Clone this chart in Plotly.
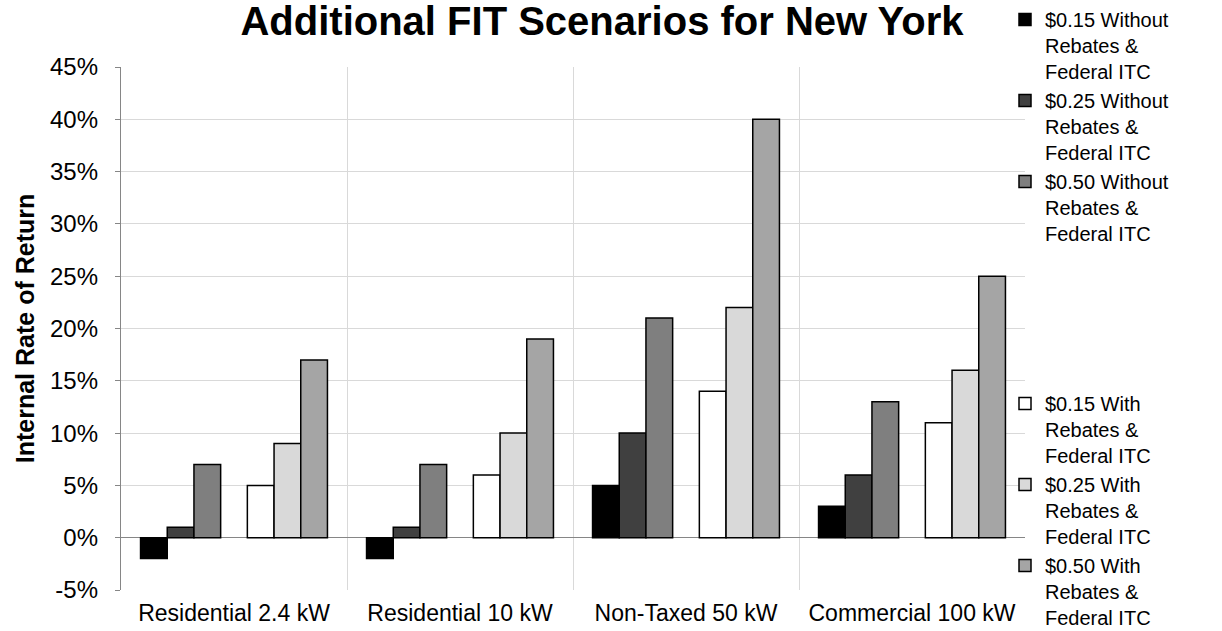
import plotly.graph_objects as go

# Installation types compared
categories = ["Residential 2.4 kW", "Residential 10 kW", "Non-Taxed 50 kW", "Commercial 100 kW"]

# Internal rate of return (%) for each feed-in tariff scenario
fit015_without = [-2, -2, 5, 3]
fit025_without = [1, 1, 10, 6]
fit050_without = [7, 7, 21, 13]
fit015_with = [5, 6, 14, 11]
fit025_with = [9, 10, 22, 16]
fit050_with = [17, 19, 40, 25]

y_ticks = [-5, 0, 5, 10, 15, 20, 25, 30, 35, 40, 45]

FONT = "Liberation Sans, Arial, sans-serif"
W, H = 1222, 631
L, R, T, B = 121, 197, 67, 41

series = [
    ("$0.15 Without<br>Rebates &<br>Federal ITC", fit015_without, "#000000", "legend"),
    ("$0.25 Without<br>Rebates &<br>Federal ITC", fit025_without, "#404040", "legend"),
    ("$0.50 Without<br>Rebates &<br>Federal ITC", fit050_without, "#7f7f7f", "legend"),
    None,  # empty slot separating the two scenario groups
    ("$0.15 With<br>Rebates &<br>Federal ITC", fit015_with, "#ffffff", "legend2"),
    ("$0.25 With<br>Rebates &<br>Federal ITC", fit025_with, "#d9d9d9", "legend2"),
    ("$0.50 With<br>Rebates &<br>Federal ITC", fit050_with, "#a5a5a5", "legend2"),
]

fig = go.Figure()
for s in series:
    if s is None:
        fig.add_trace(go.Bar(x=categories, y=[None] * len(categories),
                             showlegend=False, hoverinfo="skip"))
        continue
    name, vals, color, leg = s
    fig.add_trace(go.Bar(
        x=categories, y=vals, name=name, legend=leg,
        marker=dict(color=color, line=dict(color="#000000", width=1.5)),
    ))

zero_frac = (0 - y_ticks[0]) / (y_ticks[-1] - y_ticks[0])

fig.update_layout(
    width=W, height=H,
    margin=dict(l=L, r=R, t=T, b=B, autoexpand=False),
    paper_bgcolor="white", plot_bgcolor="white",
    barmode="group", bargap=0.173, bargroupgap=0,
    font=dict(family=FONT, color="#000000"),
    title=dict(
        text="<b>Additional FIT Scenarios for New York</b>",
        font=dict(family=FONT, size=40, color="#000000"),
        x=602 / W, xanchor="center", xref="container",
        y=1 - 7 / H, yanchor="top", yref="container",
    ),
    xaxis=dict(
        type="category", tickson="boundaries",
        showgrid=True, gridcolor="#d9d9d9", gridwidth=1.3,
        showline=False, ticks="", zeroline=False,
        tickfont=dict(family=FONT, size=23, color="#000000"),
        ticklabelstandoff=7,
    ),
    xaxis2=dict(
        overlaying="x", anchor="free", position=zero_frac,
        range=[-0.5, len(categories) - 0.5],
        tickvals=[i + 0.5 for i in range(len(categories))],
        showgrid=False, zeroline=False, showticklabels=False,
        showline=True, linecolor="#868686", linewidth=1.3,
        ticks="outside", ticklen=5, tickcolor="#868686", tickwidth=1.3,
    ),
    yaxis=dict(
        range=[y_ticks[0], y_ticks[-1]], tickvals=y_ticks,
        ticktext=[f"{v}%" for v in y_ticks],
        showgrid=True, gridcolor="#d9d9d9", gridwidth=1.3,
        zeroline=True, zerolinecolor="#868686", zerolinewidth=1.3,
        showline=True, linecolor="#868686", linewidth=1.3,
        ticks="outside", ticklen=5, tickcolor="#868686", tickwidth=1.3,
        tickfont=dict(family=FONT, size=24, color="#000000"),
        ticklabelstandoff=12,
        title=dict(text="<b>Internal Rate of Return</b>",
                   font=dict(family=FONT, size=25, color="#000000"),
                   standoff=8),
    ),
    legend=dict(
        xref="container", yref="container",
        x=1005 / W, xanchor="left", y=1.0, yanchor="top",
        font=dict(family=FONT, size=20, color="#000000"),
        valign="top", bgcolor="rgba(0,0,0,0)", borderwidth=0,
        tracegroupgap=0,
    ),
    legend2=dict(
        xref="container", yref="container",
        x=1005 / W, xanchor="left", y=1 - 384 / H, yanchor="top",
        font=dict(family=FONT, size=20, color="#000000"),
        valign="top", bgcolor="rgba(0,0,0,0)", borderwidth=0,
        tracegroupgap=0,
    ),
)

fig.write_html("out.html")
